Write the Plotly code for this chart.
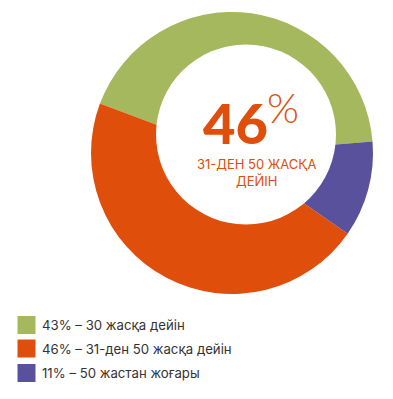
import plotly.graph_objects as go

# ---- data ----
labels = ["30 жасқа дейін", "31-ден 50 жасқа дейін", "50 жастан жоғары"]
values = [43, 46, 11]
colors = ["#A6B85E", "#E04E0B", "#5A519C"]
center_value = "46"
center_unit = "%"
center_caption = ["31-ДЕН 50 ЖАСҚА", "ДЕЙІН"]

W, H = 393, 399
OFF = 8  # page body margin
FONT = "Inter"


def px(x):
    return (x - OFF) / W


def py(y):
    return (H - (y - OFF)) / H


fig = go.Figure()
fig.add_trace(go.Pie(
    labels=labels,
    values=values,
    marker=dict(colors=colors, line=dict(width=0)),
    sort=False,
    direction="counterclockwise",
    rotation=-69.5,
    hole=0,
    textinfo="none",
    hoverinfo="label+percent",
    showlegend=False,
    domain=dict(x=[px(91), px(373)], y=[py(294), py(12)]),
))

shapes = []
# offset white hole
hc_x, hc_y, hr = 246, 134.5, 90
shapes.append(dict(type="circle", xref="paper", yref="paper", layer="above",
                   x0=px(hc_x - hr), x1=px(hc_x + hr),
                   y0=py(hc_y + hr), y1=py(hc_y - hr),
                   fillcolor="white", line=dict(width=0)))

annotations = []
annotations.append(dict(
    text=center_value, x=px(235), y=py(122.5),
    xref="paper", yref="paper", xanchor="center", yanchor="middle",
    showarrow=False, font=dict(family="Lato", size=56, weight=900, color=colors[1])))
annotations.append(dict(
    text=center_unit, x=px(265), y=py(107),
    xref="paper", yref="paper", xanchor="left", yanchor="middle",
    showarrow=False, font=dict(family="Lato", size=41, weight=300, color=colors[1])))
annotations.append(dict(
    text="<br>".join(center_caption), x=px(257), y=py(172),
    xref="paper", yref="paper", xanchor="center", yanchor="middle",
    showarrow=False, font=dict(family=FONT, size=13, color=colors[1])))

# manual legend
row_y = [325, 348.5, 373]
for i, (lab, val, col) in enumerate(zip(labels, values, colors)):
    cy = row_y[i]
    shapes.append(dict(type="rect", xref="paper", yref="paper",
                       x0=px(17.5), x1=px(35.5), y0=py(cy + 9), y1=py(cy - 9),
                       fillcolor=col, line=dict(width=0)))
    annotations.append(dict(
        text=f"{val}% – {lab}", x=px(42), y=py(cy), xshift=-2,
        xref="paper", yref="paper", xanchor="left", yanchor="middle",
        showarrow=False, font=dict(family=FONT, size=13.2, color="#333333")))

fig.update_layout(
    width=W, height=H,
    margin=dict(l=0, r=0, t=0, b=0),
    paper_bgcolor="white", plot_bgcolor="white",
    shapes=shapes, annotations=annotations,
    showlegend=False,
)
fig.write_html("out.html")
